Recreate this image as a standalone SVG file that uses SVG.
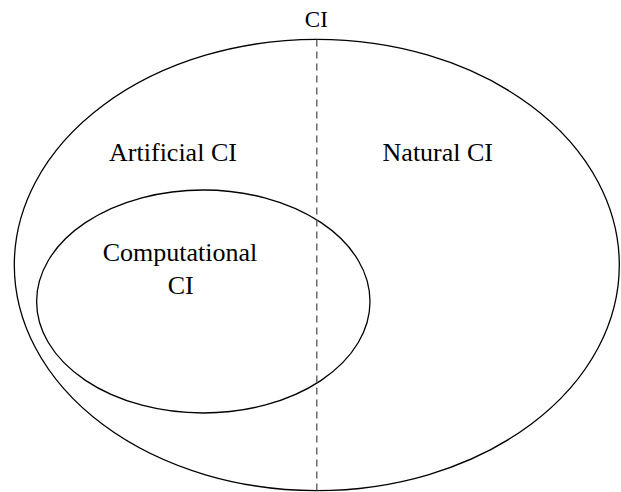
<svg xmlns="http://www.w3.org/2000/svg" width="621" height="492" viewBox="0 0 621 492">
<style>
.shape{fill:none;stroke:#000;stroke-width:1.3}
.t{font-family:"Liberation Serif","Times New Roman",serif;font-size:26px;fill:#000;text-anchor:middle}
</style>
<rect width="621" height="492" fill="#fff"/>
<g id="ci">
<ellipse class="shape" cx="316.8" cy="265" rx="302.5" ry="225.6"/>
<text class="t" x="316.3" y="27" style="font-size:23px">CI</text>
</g>
<g id="artificial">
<text class="t" x="173" y="161">Artificial CI</text>
</g>
<g id="natural">
<text class="t" x="437.8" y="161">Natural CI</text>
</g>
<g id="computational">
<ellipse class="shape" cx="203.3" cy="301.5" rx="166.7" ry="111.5"/>
<text class="t" x="180" y="261">Computational</text>
<text class="t" x="180.7" y="293.5">CI</text>
</g>
<g id="connectors">
<line x1="316.8" y1="39.5" x2="316.8" y2="490.6" stroke="#555" stroke-width="1.3" stroke-dasharray="7,5"/>
</g>
</svg>
